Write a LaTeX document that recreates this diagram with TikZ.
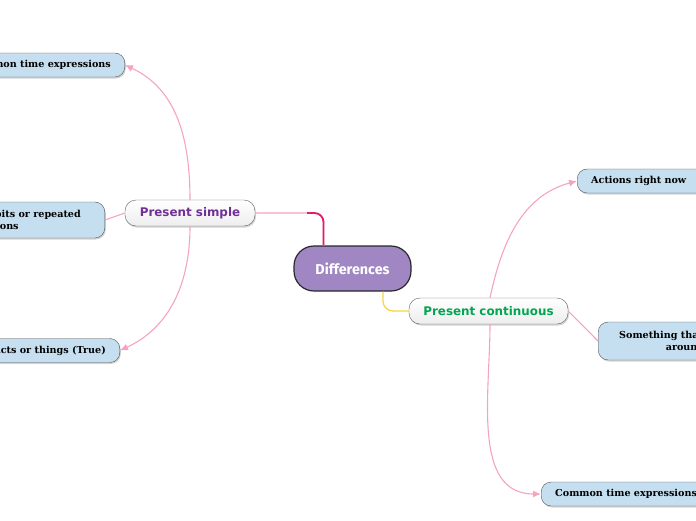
\documentclass[tikz,border=0pt]{standalone}
\usepackage{fontspec}
\newfontfamily\leaffont{DejaVu Serif}
\newfontfamily\branchfont{DejaVu Sans}
\newfontfamily\rootfont{Fira Sans}
\usetikzlibrary{calc}
\usetikzlibrary{arrows.meta}
\usetikzlibrary{shadows}
\definecolor{leafblue}{RGB}{197,223,240}
\definecolor{leafline}{RGB}{80,80,80}
\definecolor{rootfill}{RGB}{160,134,194}
\definecolor{rootline}{RGB}{40,40,45}
\definecolor{linkpink}{RGB}{244,163,194}
\definecolor{deeppink}{RGB}{226,30,108}
\definecolor{linkyellow}{RGB}{247,212,70}
\definecolor{simplepurple}{RGB}{112,48,150}
\definecolor{contgreen}{RGB}{0,166,80}

\begin{document}
\begin{tikzpicture}[x=1pt,y=-1pt,
      root node/.style={draw=rootline,line width=1.2pt,fill=rootfill,rounded corners=20pt,
        minimum width=117pt,minimum height=45pt,text=white,
        font=\rootfont\bfseries\fontsize{14.3}{17}\selectfont},
      branch node/.style={draw=gray!75!black,top color=white,bottom color=gray!14,
        rounded corners=11pt,minimum height=26pt,
        drop shadow={opacity=0.35,shadow xshift=1pt,shadow yshift=-1.5pt},
        font=\branchfont\bfseries\fontsize{11.9}{14}\selectfont},
      leaf node/.style={draw=leafline,fill=leafblue,rounded corners=10pt,
        minimum height=24pt,inner xsep=14pt,
        drop shadow={opacity=0.35,shadow xshift=1pt,shadow yshift=-1.5pt},
        font=\leaffont\bfseries\fontsize{9.6}{11.5}\selectfont},
      arr/.style={-{Latex[length=8pt,width=7pt]}, draw=linkpink, line width=1.1pt},
      link/.style={draw=linkpink, line width=1.1pt}]
    \path[use as bounding box, clip] (0,0) rectangle (696,520);
    % centre and branches
    \node[root node] (diff) at (352.5,268.5) {Differences};
    \node[branch node,minimum width=130pt,text=simplepurple] (simple) at (190,213) {Present simple};
    \node[branch node,minimum width=159pt,text=contgreen] (cont) at (488.5,311) {Present continuous};
    \draw[link, rounded corners=9pt] (simple.east) -| ($(diff.north)+(-29,0)$);
    \draw[draw=deeppink, line width=1.8pt, rounded corners=9pt]
      ($(simple.east)+(52,0)$) -| ($(diff.north)+(-29,0)$);
    \draw[draw=linkyellow, line width=1.3pt, rounded corners=10pt]
      ($(diff.south)+(30.5,0)$) |- (cont.west);
    % present simple
    \node[leaf node,anchor=east] (simpletime) at (125,65) {Common time expressions};
    \node[leaf node,anchor=east,align=left,inner xsep=24pt,minimum height=36pt] (habits) at (105,220)
      {Habits or repeated\\actions};
    \node[leaf node,anchor=east] (facts) at (120,350.5) {Facts or things (True)};
    \draw (simple.north) edge[arr, out=90, in=-25] (simpletime.east);
    \draw (simple.west) edge[link] (habits.east);
    \draw (simple.south) edge[arr, out=-90, in=25] (facts.east);
    % present continuous
    \node[leaf node,anchor=west,text width=112pt,align=left] (now) at (577,181) {Actions right now};
    \node[leaf node,anchor=west,align=center,inner xsep=21pt,minimum height=38pt] (around) at (598,341)
      {Something that is happening\\around now};
    \node[leaf node,anchor=west] (conttime) at (541,494) {Common time expressions};
    \draw ($(cont.north)+(1.5,0)$) edge[arr, out=78, in=195] (now.west);
    \draw (cont.east) edge[link] (around.west);
    \draw ($(cont.south)+(1.5,0)$) edge[arr, out=-90, in=180] (conttime.west);
  \end{tikzpicture}
\end{document}
